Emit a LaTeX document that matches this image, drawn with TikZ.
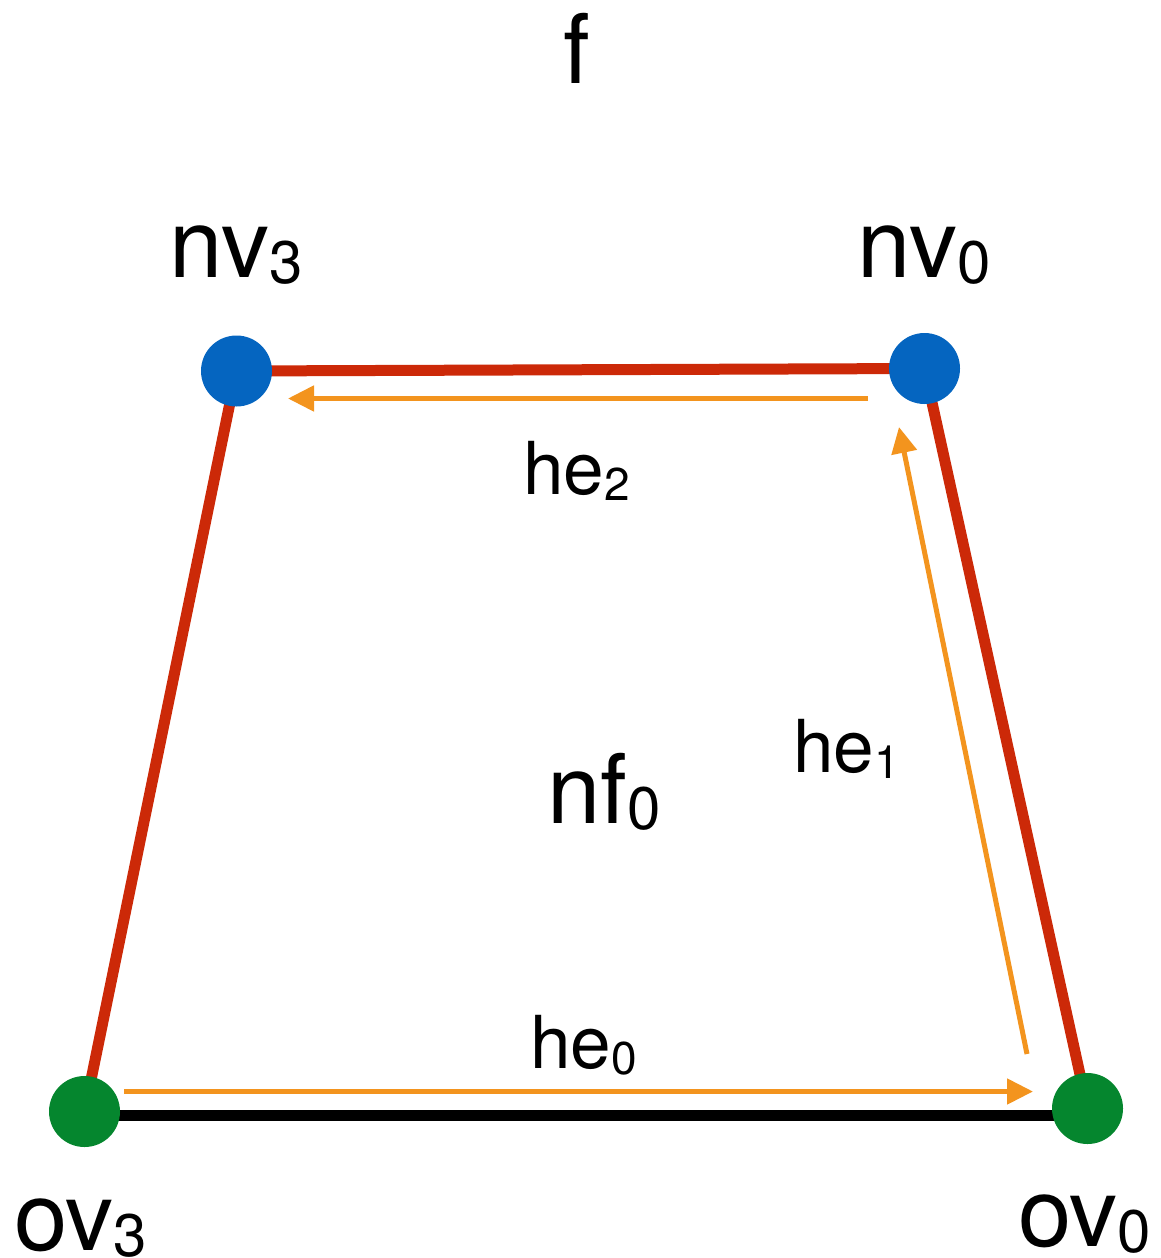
\documentclass[tikz,border=0pt]{standalone}
\usepackage{fontspec}
\setmainfont{TeX Gyre Heros}
\usetikzlibrary{arrows.meta}
\definecolor{edgered}{RGB}{204,41,8}
\definecolor{vblue}{RGB}{5,101,192}
\definecolor{vgreen}{RGB}{5,134,46}
\definecolor{heorange}{RGB}{243,148,30}
\pgfdeclarelayer{bg}
\pgfsetlayers{bg,main}
\newcommand\mylab[4]{\fontsize{#3}{#3}\selectfont #1\raisebox{-6pt}{\fontsize{#4}{#4}\selectfont #2}}
\tikzset{
  dot/.style={circle, inner sep=0pt, minimum size=71pt, fill=#1, draw=none},
  redge/.style={draw=edgered, line width=11pt},
  bedge/.style={draw=black, line width=11pt},
  harrow/.style={draw=heorange, line width=5pt, -{Triangle[length=26pt,width=25pt]}},
  lab/.style={inner sep=0pt, anchor=base west, text=black}
}
\begin{document}
\begin{tikzpicture}[x=1pt,y=-1pt]
\useasboundingbox (0,0) rectangle (1160,1258);

% vertices
\node[dot=vblue] (nv3) at (236.5,371) {};
\node[dot=vblue] (nv0) at (924.5,368.5) {};
\node[dot=vgreen] (ov3) at (84.5,1111.5) {};
\node[dot=vgreen] (ov0) at (1087.5,1108.5) {};

% edges
\begin{pgfonlayer}{bg}
\draw[redge] (nv3.center) -- (nv0.center);
\draw[redge] (nv3.center) -- (ov3.center);
\draw[redge] (nv0.center) -- (ov0.center);
\draw[bedge] ([yshift=-4pt]ov3.center) -- ([yshift=-7pt]ov0.center);
\end{pgfonlayer}

% half-edge arrows
\coordinate (he0s) at (124,1091.5);
\coordinate (he0e) at (1033,1091.5);
\coordinate (he1s) at (1027,1054);
\coordinate (he1e) at (899,427);
\coordinate (he2s) at (868,398.5);
\coordinate (he2e) at (288,398.5);
\draw[harrow] (he0s) -- (he0e);
\draw[harrow] (he1s) -- (he1e);
\draw[harrow] (he2s) -- (he2e);

% labels
\node[inner sep=0pt, anchor=base] (ftitle) at (577,83) {\fontsize{96}{96}\selectfont f};
\node[lab] (lnv3) at (169,277) {\mylab{nv}{3}{96}{60}};
\node[lab] (lnv0) at (857,277) {\mylab{nv}{0}{96}{60}};
\node[lab] (lhe2) at (523,494) {\mylab{he}{2}{73}{46}};
\node[lab] (lhe1) at (793,772) {\mylab{he}{1}{73}{46}};
\node[lab] (lnf0) at (547,823) {\mylab{nf}{0}{96}{60}};
\node[lab] (lhe0) at (530,1068) {\mylab{he}{0}{73}{46}};
\node[lab] (lov3) at (14,1250) {\mylab{ov}{3}{96}{60}};
\node[lab] (lov0) at (1018,1246) {\mylab{ov}{0}{96}{60}};
\end{tikzpicture}
\end{document}
